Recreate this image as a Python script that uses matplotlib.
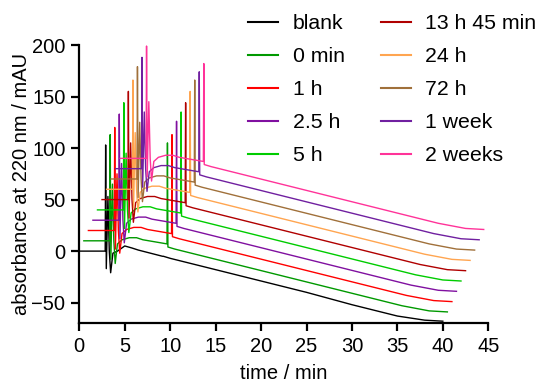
import matplotlib.pyplot as plt

plt.rcParams['font.family'] = ['Liberation Sans', 'DejaVu Sans']

labels = ['blank', '0 min', '1 h', '2.5 h', '5 h',
          '13 h 45 min', '24 h', '72 h', '1 week', '2 weeks']
colors = ['#000000', '#009900', '#ff0000', '#8010a0', '#00cc00',
          '#b00000', '#ffa550', '#a0703a', '#7020a0', '#ff3399']

# run time (min) of the chromatogram break points
t_run = [0, 2.85, 2.9, 2.97, 3.15, 3.3, 3.45, 3.7, 4.2, 5.0, 5.8, 6.5,
         9.15, 9.2, 9.25, 10, 15, 20, 25, 30, 35, 38, 40]
# absorbance (mAU) at those times
blank_abs = [0, 0, 103, -17, 53, 0, -21, -2, 0, 5, 3, 1,
             -5, -5, -5, -7, -18, -29, -40, -52, -63, -67, -68]
sample_abs = [0, 0, 105, -18, 55, 0, -22, -3, 1, 3, 3, 1,
              -3, 95, -6, -8, -19, -30, -41, -52, -63, -68, -69]

# injection peak (2.9 min) and product peak (9.2 min) for each run
inj_peak = [103, 103, 100, 103, 104, 105, 106, 109, 108, 109]
prod_peak = [None, 95, 93, 96, 95, 94, 95, 96, 94, 92]

# stacking offsets between runs
x_step = 0.5
y_step = 10

fig = plt.figure(figsize=(5.48, 3.83), dpi=100)
ax = fig.add_axes([0.1447, 0.156, 0.7463, 0.7265])

for i, lab in enumerate(labels):
    y = list(blank_abs if i == 0 else sample_abs)
    y[2] = inj_peak[i]
    if prod_peak[i] is not None:
        y[13] = prod_peak[i]
    xs = [t + i * x_step for t in t_run]
    ys = [v + i * y_step for v in y]
    ax.plot(xs, ys, color=colors[i], lw=1.0, label=lab)

ax.set_xlim(0, 45)
ax.set_ylim(-70, 200)
ax.set_xticks(range(0, 46, 5))
ax.set_yticks(range(-50, 201, 50))
for s in ['top', 'right']:
    ax.spines[s].set_visible(False)
for s in ['left', 'bottom']:
    ax.spines[s].set_linewidth(1.6)
ax.tick_params(direction='out', length=6, width=1.6, labelsize=14.5, pad=4)

ax.set_xlabel('time / min', fontsize=14.5, labelpad=6)
ax.set_ylabel('absorbance at 220 nm / mAU', fontsize=14.5, labelpad=0)

leg = fig.legend(loc='upper left', bbox_to_anchor=(0.4526, 0.963), ncol=2,
                 frameon=False, fontsize=15.3, handlelength=1.4,
                 handletextpad=0.7, columnspacing=1.7, labelspacing=0.66,
                 borderpad=0, borderaxespad=0)
for h in leg.get_lines():
    h.set_linewidth(1.5)

fig.savefig('out.png', dpi=100)
